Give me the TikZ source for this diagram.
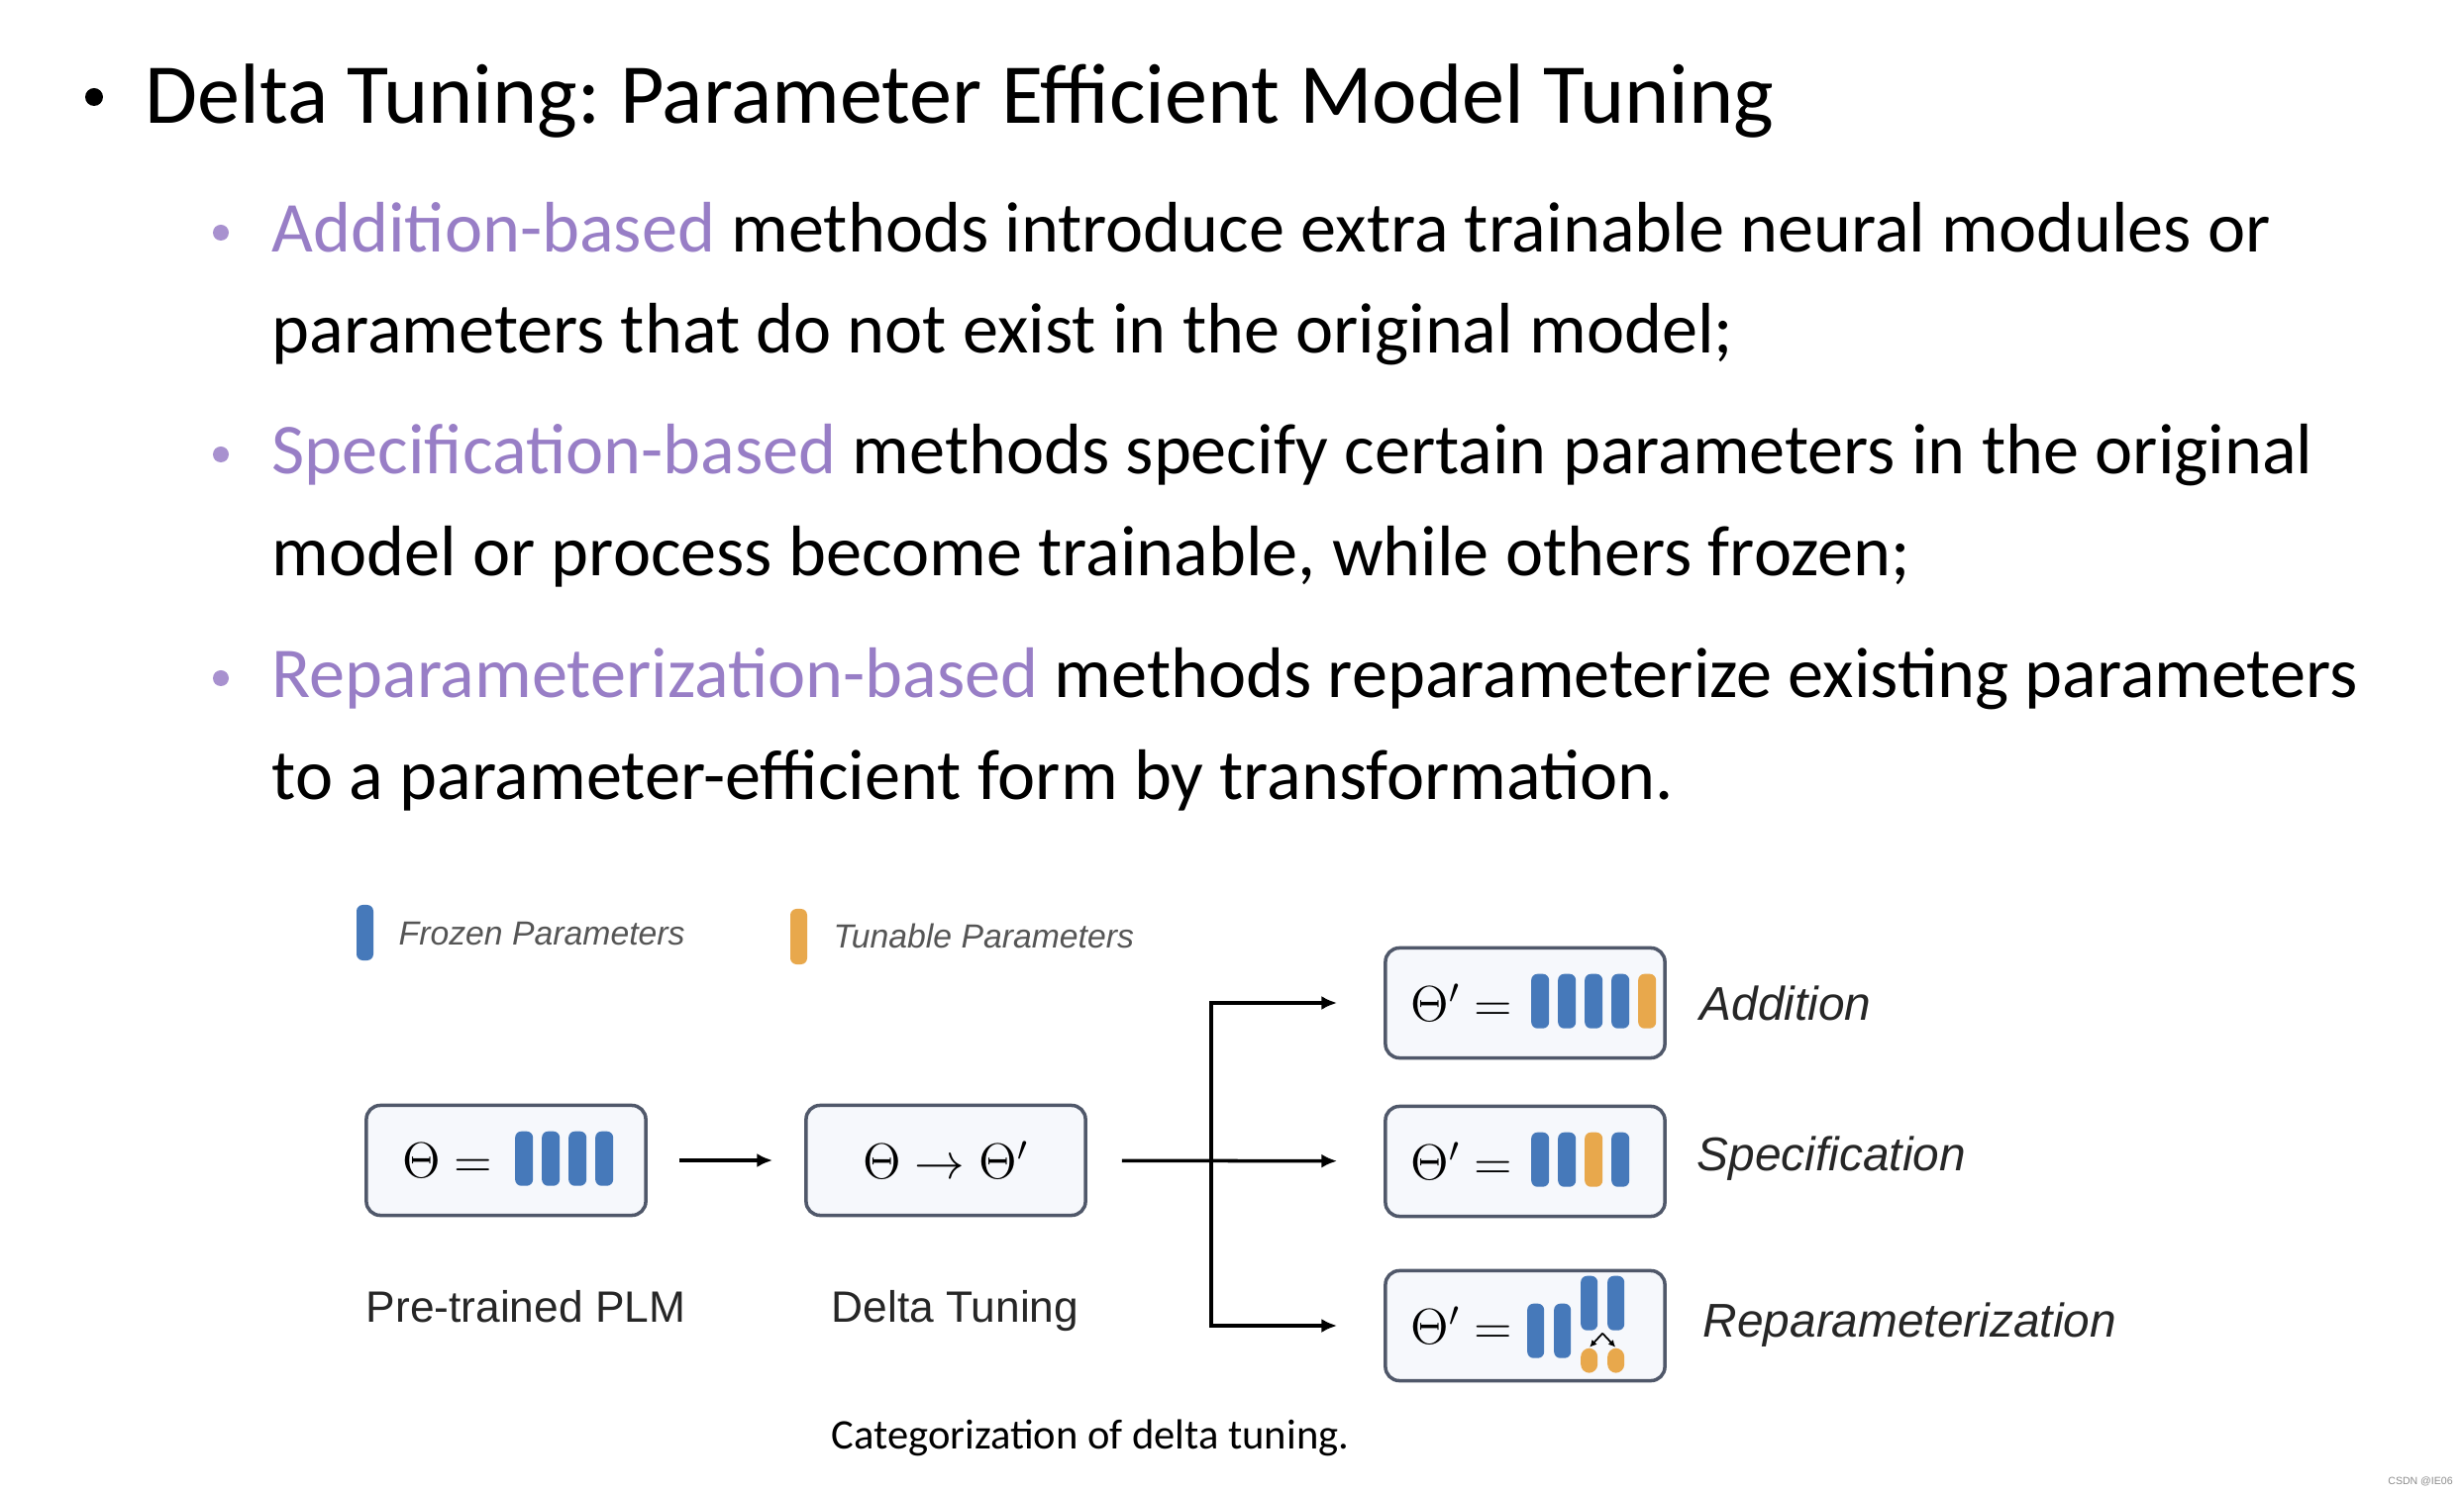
\documentclass[tikz,border=0pt]{standalone}
\usepackage{fontspec}
\setmainfont{Carlito}
\newfontfamily\figfont{Liberation Sans}
\usetikzlibrary{arrows.meta}
\definecolor{basedpurple}{RGB}{152,126,198}
\definecolor{frozenblue}{RGB}{70,121,186}
\definecolor{tunableorange}{RGB}{232,168,76}
\definecolor{boxline}{RGB}{80,88,106}
\definecolor{boxfill}{RGB}{246,248,252}
\definecolor{legendgray}{RGB}{85,85,85}
\frenchspacing
\begin{document}
\begin{tikzpicture}[x=0.01cm,y=-0.01cm,
    slide/.style={anchor=base west,inner sep=0pt,font=\fontsize{20.55}{24}\selectfont},
    pbox/.style={draw=boxline,line width=1pt,fill=boxfill,rounded corners=4pt,
        minimum width=2.82cm,minimum height=1.11cm,inner sep=0pt},
    eq/.style={anchor=east,inner sep=0pt,font=\fontsize{14}{16}\selectfont},
    frozen/.style={fill=frozenblue,rounded corners=1.8pt},
    tunable/.style={fill=tunableorange,rounded corners=1.8pt},
    flow/.style={line width=1pt,-{Latex[length=4.5pt,width=4pt]}},
    legend/.style={anchor=west,inner sep=0pt,text=legendgray,
        font=\figfont\itshape\fontsize{9.6}{11}\selectfont},
    caption/.style={anchor=base west,inner sep=0pt,text=black!85,
        font=\figfont\fontsize{12.6}{15}\selectfont},
    tag/.style={anchor=west,inner sep=0pt,text=black!85,
        font=\figfont\itshape\fontsize{13.6}{16}\selectfont}]

\fill[white] (0,0) rectangle (2488,1510);
\useasboundingbox (0,0) rectangle (2488,1510);

% heading
\fill (95,98) circle (9);
\node[anchor=base west,inner sep=0pt,font=\fontsize{24.5}{28}\selectfont] (title) at (146,125)
    {Delta Tuning: Parameter Efficient Model Tuning};

% three kinds of methods
\foreach \y in {235,459,685}
    \fill[basedpurple!85] (223,\y) circle (8);
\node[slide] (addA) at (274,255) {\textcolor{basedpurple}{Addition-based} methods introduce extra trainable neural modules or};
\node[slide] (addB) at (274,357) {parameters that do not exist in the original model;};
\node[slide] (specA) at (274,479) {\textcolor{basedpurple}{Specification-based} methods specify certain parameters in the original};
\node[slide] (specB) at (274,582) {model or process become trainable, while others frozen;};
\node[slide] (repA) at (274,705) {\textcolor{basedpurple}{Reparameterization-based} methods reparameterize existing parameters};
\node[slide] (repB) at (274,808) {to a parameter-efficient form by transformation.};

% legend
\fill[frozen] (360,914) rectangle (377,970);
\node[legend] (frozenkey) at (402,943) {Frozen Parameters};
\fill[tunable] (798,918) rectangle (815,974);
\node[legend] (tunablekey) at (841,945) {Tunable Parameters};

% boxes
\node[pbox] (plm) at (511,1172) {};
\node[eq] at ([xshift=1.30cm]plm.west) {$\Theta=$};
\begin{scope}[shift={(plm.north west)}]
    \foreach \i in {0,...,3}
        \fill[frozen] (152+27*\i,28) rectangle ++(18,55);
\end{scope}

\node[pbox,font=\fontsize{14}{16}\selectfont] (delta) at (955,1172) {$\Theta\to\Theta'$};

\node[pbox] (add) at (1540,1013) {};
\node[eq] at ([xshift=1.31cm]add.west) {$\Theta'=$};
\begin{scope}[shift={(add.north west)}]
    \foreach \i in {0,...,3}
        \fill[frozen] (149+27*\i,28) rectangle ++(18,55);
    \fill[tunable] (149+27*4,28) rectangle ++(18,55);
\end{scope}

\node[pbox] (spec) at (1540,1173) {};
\node[eq] at ([xshift=1.31cm]spec.west) {$\Theta'=$};
\begin{scope}[shift={(spec.north west)}]
    \foreach \i/\c in {0/frozen,1/frozen,2/tunable,3/frozen}
        \fill[\c] (149+27*\i,28) rectangle ++(18,55);
\end{scope}

\node[pbox] (rep) at (1540,1339) {};
\node[eq] at ([xshift=1.31cm]rep.west) {$\Theta'=$};
\begin{scope}[shift={(rep.north west)}]
    \foreach \i in {0,1} {
        \fill[frozen] (145+27*\i,35) rectangle ++(17,55);
        \fill[frozen] (199+27*\i,7) rectangle ++(17,55);
        \fill[tunable,rounded corners=2.5pt] (199+27*\i,80) rectangle ++(17,25);
    }
    \draw[line width=0.5pt,-{Latex[length=2pt,width=2pt]}] (221,65) -- (208,79);
    \draw[line width=0.5pt,-{Latex[length=2pt,width=2pt]}] (221,65) -- (234,79);
\end{scope}

% connectors
\coordinate (split) at (1223,1173);
\draw[flow,shorten <=0.32cm,shorten >=0.32cm] (plm) -- (delta);
\draw[flow,shorten <=0.35cm,shorten >=0.47cm] (delta) -- (spec);
\draw[flow,shorten >=0.47cm] (split) |- (add);
\draw[flow,shorten >=0.47cm] (split) |- (rep);

% labels
\node[tag] (addtag) at (1716,1013) {Addition};
\node[tag] (spectag) at (1713,1170) {Specification};
\node[tag] (reptag) at (1719,1338) {Reparameterization};
\node[caption] (plmcap) at (369,1335) {Pre-trained PLM};
\node[caption] (deltacap) at (839,1335) {Delta Tuning};
\node[anchor=base west,inner sep=0pt,font=\fontsize{12.1}{14}\selectfont] (figcap) at (839,1463)
    {Categorization of delta tuning.};
\node[inner sep=0pt,text=black!45,font=\figfont\fontsize{3}{4}\selectfont] (mark) at (2444,1496) {CSDN @IE06};
\end{tikzpicture}
\end{document}
